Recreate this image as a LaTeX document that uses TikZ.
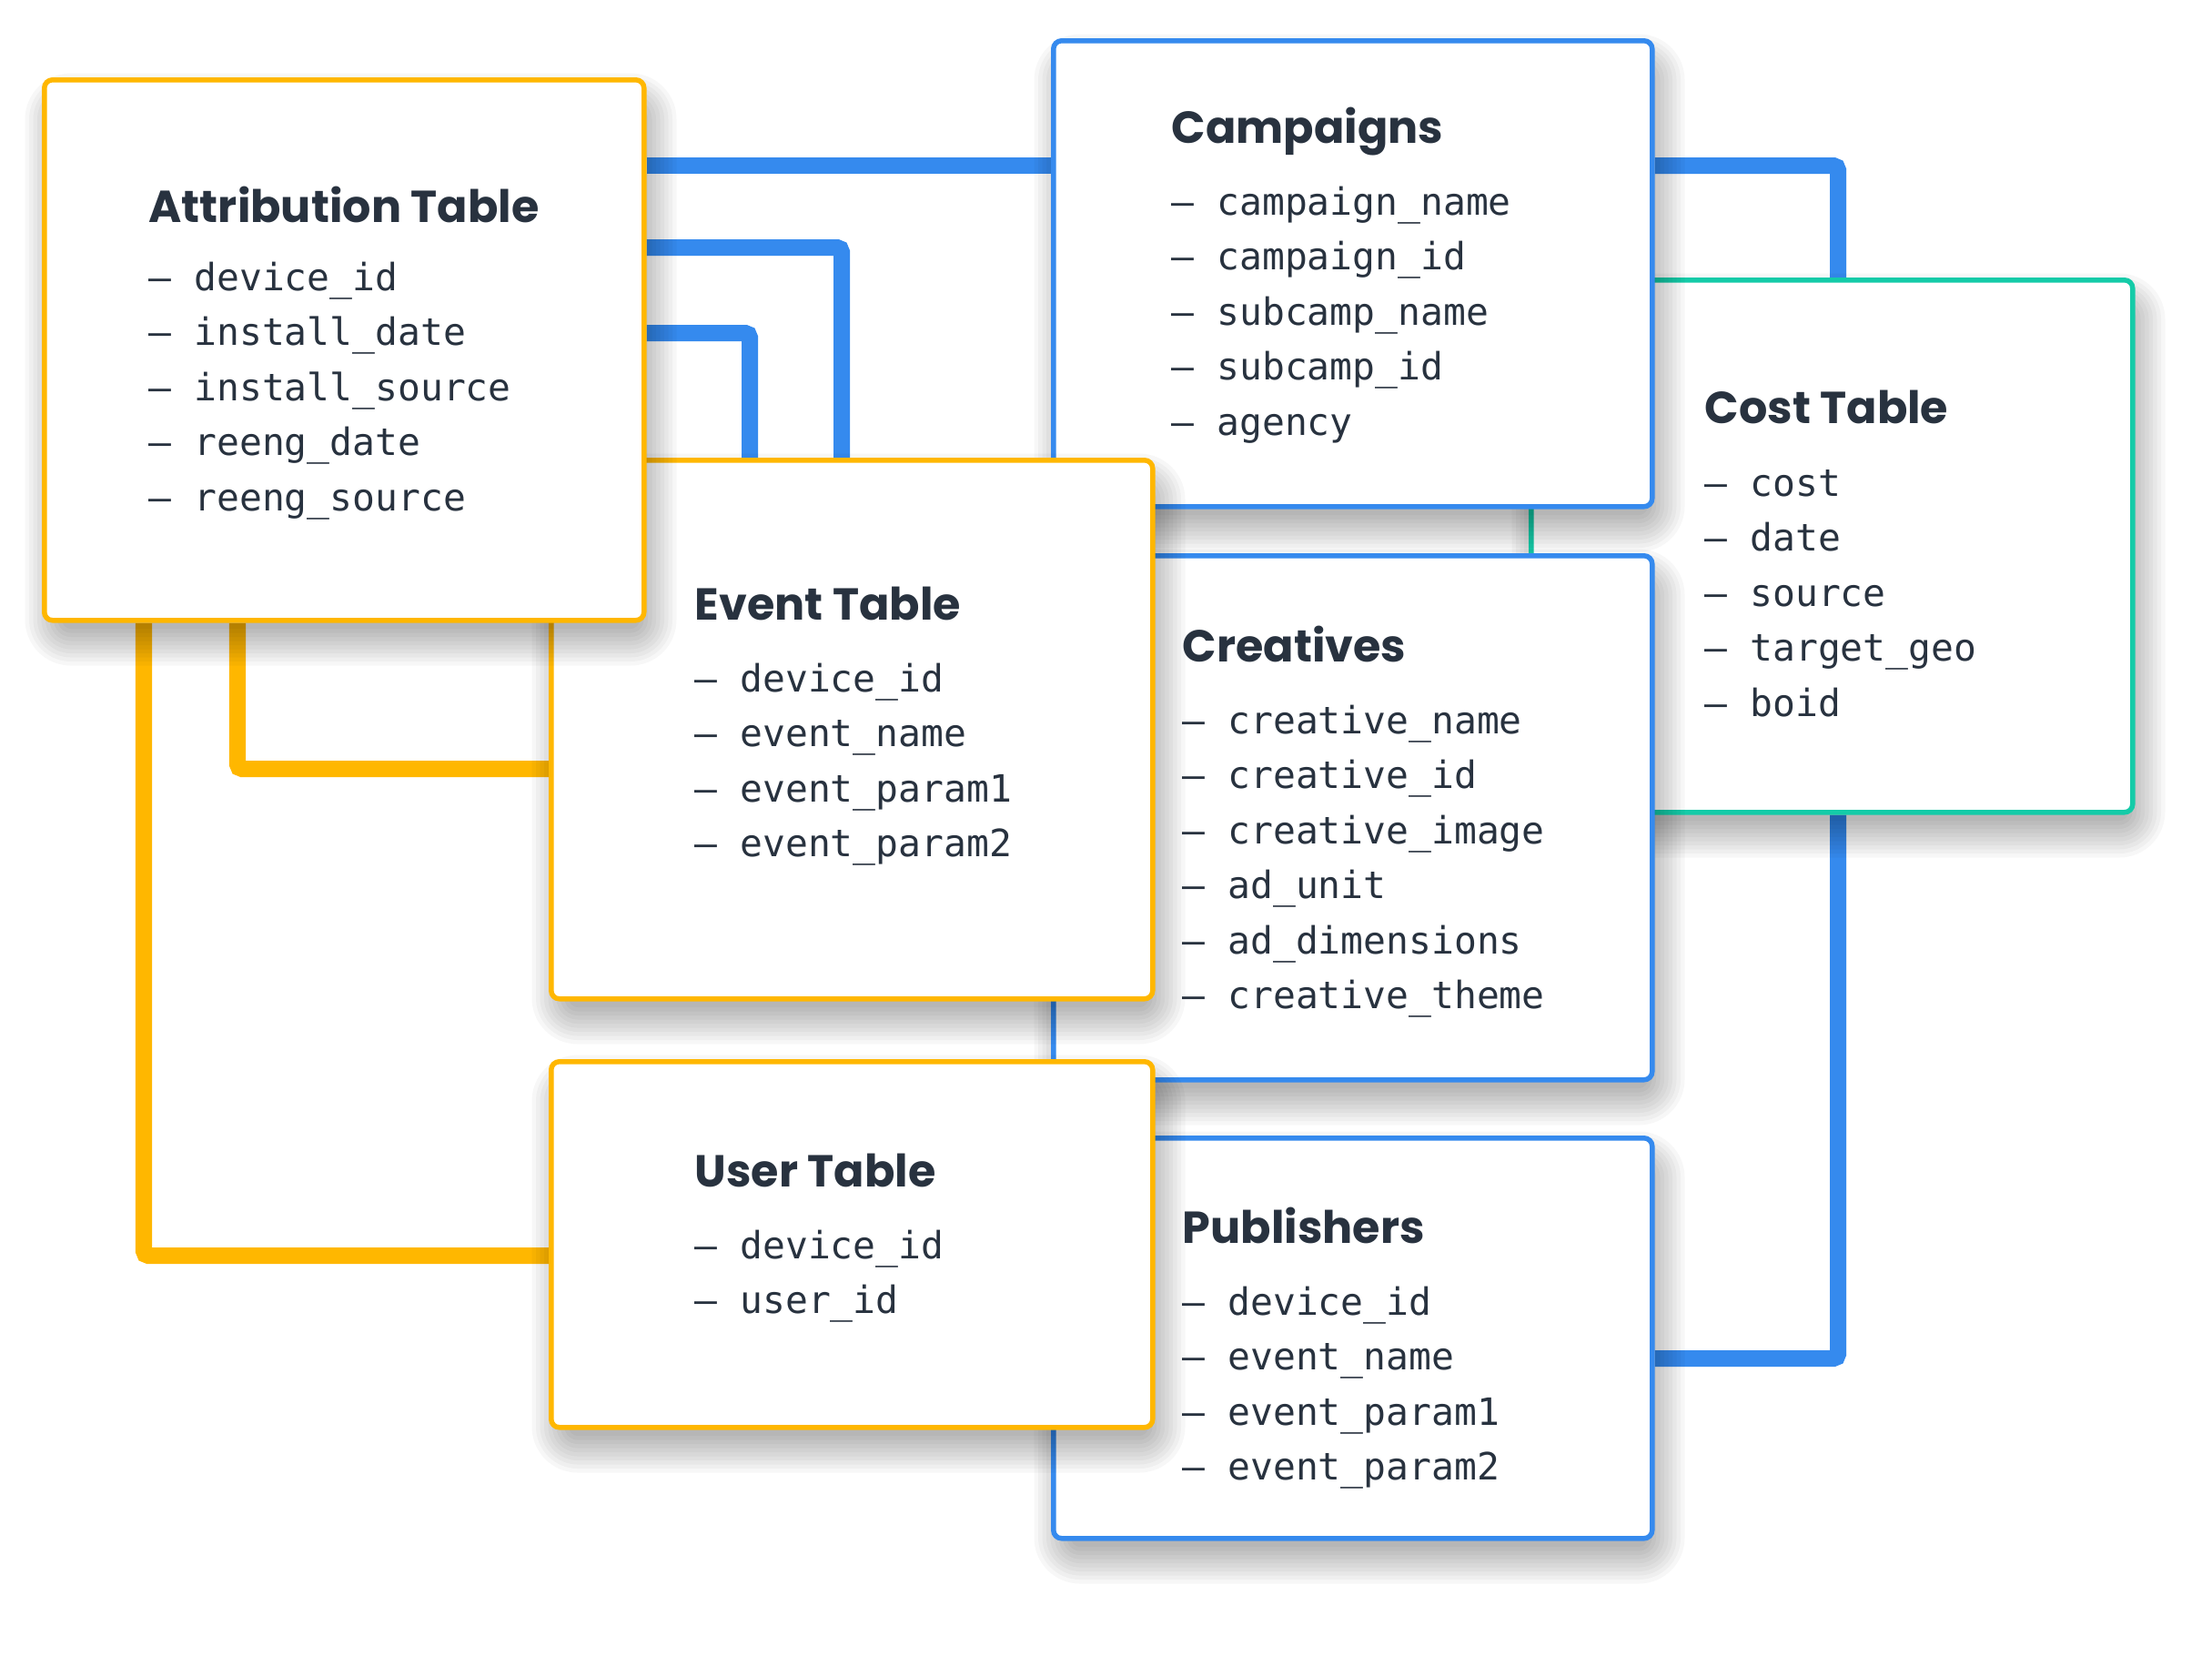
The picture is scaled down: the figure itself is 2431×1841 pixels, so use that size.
\documentclass[tikz,border=0pt]{standalone}
\usepackage{fontspec}
\setmainfont{Poppins}
\newfontfamily\monofont{DejaVu Sans Mono}
\definecolor{yel}{HTML}{FFB700}
\definecolor{blu}{HTML}{358AEE}
\definecolor{tea}{HTML}{14CBA8}
\definecolor{ink}{HTML}{28323F}
\pgfdeclarelayer{bg}
\pgfdeclarelayer{back}
\pgfsetlayers{bg,back,main}
\tikzset{
  tbl/.style={draw, line width=0.055cm, rounded corners=0.09cm, fill=white, anchor=north west, inner sep=0pt},
  shd/.style={fill=black, fill opacity=0.032},
  ttl/.style={anchor=base west, font=\bfseries\fontsize{14}{16}\selectfont, text=ink, inner sep=0pt},
  itm/.style={anchor=base west, font=\monofont\fontsize{11.75}{13}\selectfont, text=ink, inner sep=0pt},
  conn/.style={line width=0.18cm, rounded corners=0.05cm},
}
% #1 name, #2 colour, #3 x, #4 y, #5 width, #6 height (all in px)
\newcommand\tablebox[6]{%
  \foreach \k in {0,...,9}{%
    \pgfmathsetmacro\sp{-12+4.5*\k}%
    \pgfmathsetmacro\rr{0.10+0.045*\k}%
    \fill[shd, rounded corners=\rr cm] ({#3-\sp+10},{#4-\sp+24}) rectangle ({#3+#5+\sp+10},{#4+#6+\sp+24});
  }%
  \node[tbl, draw=#2, minimum width={#5*0.01cm}, minimum height={#6*0.01cm}] (#1) at (#3,#4) {};%
}
\begin{document}
\begin{tikzpicture}[x=0.01cm, y=-0.01cm]
\useasboundingbox (0,0) rectangle (2431,1841);
\begin{pgfonlayer}{bg}
\fill[white] (0,0) rectangle (2431,1841);
\end{pgfonlayer}

% helper coordinates for connector routing
\coordinate (yA) at (0,182);
\coordinate (yB) at (0,272);
\coordinate (yC) at (0,366);
\coordinate (xB) at (925,0);
\coordinate (xC) at (824,0);
\coordinate (xD) at (2020,0);
\coordinate (yE) at (0,1493);
\coordinate (xF) at (158,0);
\coordinate (yF) at (0,1380);
\coordinate (xG) at (261,0);
\coordinate (yG) at (0,845);

% boxes in stacking order (bottom first)
\tablebox{cost}{tea}{1680}{305}{661}{585}
\tablebox{camp}{blu}{1155}{42}{658}{512}
\tablebox{creat}{blu}{1155}{608}{658}{576}
\tablebox{pub}{blu}{1155}{1248}{658}{440}
\tablebox{event}{yel}{603}{503}{661}{592}
\tablebox{user}{yel}{603}{1164}{661}{402}
\tablebox{attr}{yel}{46}{85}{659}{594}

\begin{pgfonlayer}{back}
\draw[conn, blu] (attr.east |- yA) -- (camp.west |- yA);
\draw[conn, blu] (attr.east |- yB) -| (event.north -| xB);
\draw[conn, blu] (attr.east |- yC) -| (event.north -| xC);
\draw[conn, blu] (camp.east |- yA) -| (cost.north -| xD);
\draw[conn, blu] (cost.south -| xD) |- (pub.east |- yE);
\draw[conn, yel] (attr.south -| xF) |- (user.west |- yF);
\draw[conn, yel] (attr.south -| xG) |- (event.west |- yG);
\end{pgfonlayer}

% ---- texts
\node[ttl] (attr-t) at (163,244) {Attribution Table};
\foreach \s [count=\i from 0] in {device\_id, install\_date, install\_source, reeng\_date, reeng\_source}
  \node[itm] (attr-\i) at (163, 319+60.5*\i) {– \s};

\node[ttl] (camp-t) at (1287,157) {Campaigns};
\foreach \s [count=\i from 0] in {campaign\_name, campaign\_id, subcamp\_name, subcamp\_id, agency}
  \node[itm] (camp-\i) at (1287, 236+60.5*\i) {– \s};

\node[ttl] (event-t) at (763,681) {Event Table};
\foreach \s [count=\i from 0] in {device\_id, event\_name, event\_param1, event\_param2}
  \node[itm] (event-\i) at (763, 760+60.5*\i) {– \s};

\node[ttl] (creat-t) at (1299,727) {Creatives};
\foreach \s [count=\i from 0] in {creative\_name, creative\_id, creative\_image, ad\_unit, ad\_dimensions, creative\_theme}
  \node[itm] (creat-\i) at (1299, 806+60.5*\i) {– \s};

\node[ttl] (cost-t) at (1873,465) {Cost Table};
\foreach \s [count=\i from 0] in {cost, date, source, target\_geo, boid}
  \node[itm] (cost-\i) at (1873, 545+60.5*\i) {– \s};

\node[ttl] (user-t) at (763,1304) {User Table};
\foreach \s [count=\i from 0] in {device\_id, user\_id}
  \node[itm] (user-\i) at (763, 1383+60.5*\i) {– \s};

\node[ttl] (pub-t) at (1299,1366) {Publishers};
\foreach \s [count=\i from 0] in {device\_id, event\_name, event\_param1, event\_param2}
  \node[itm] (pub-\i) at (1299, 1445+60.5*\i) {– \s};
\end{tikzpicture}
\end{document}
